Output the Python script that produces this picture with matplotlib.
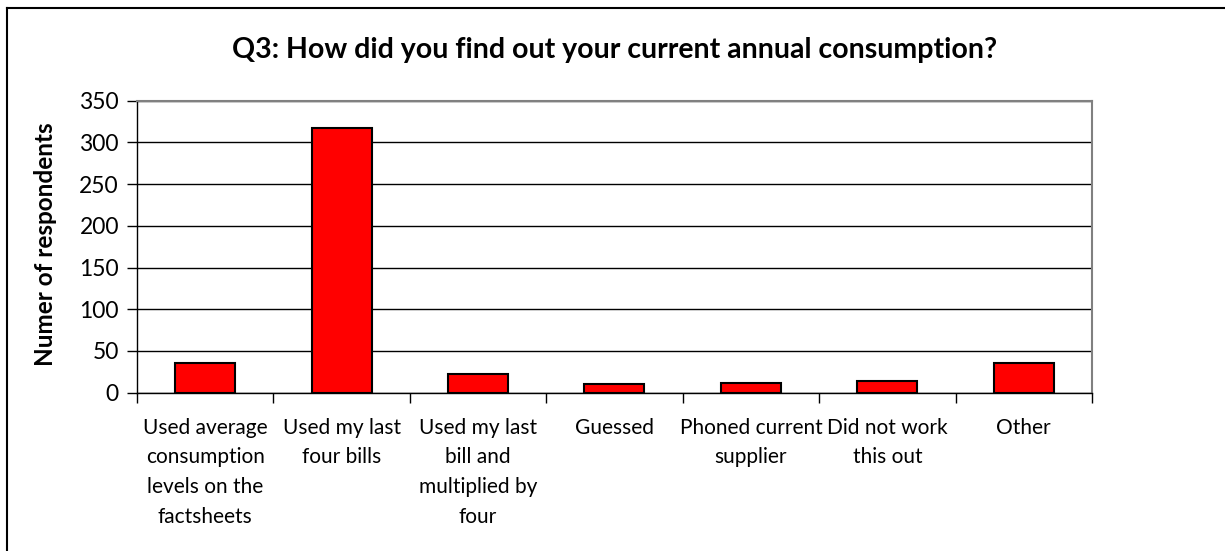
import numpy as np
import matplotlib.pyplot as plt
from matplotlib.lines import Line2D

# survey answers
categories = ["Used average\nconsumption\nlevels on the\nfactsheets",
              "Used my last\nfour bills",
              "Used my last\nbill and\nmultiplied by\nfour",
              "Guessed",
              "Phoned current\nsupplier",
              "Did not work\nthis out",
              "Other"]
counts = [36, 317, 22, 10, 12, 14, 36]
yticks = [0, 50, 100, 150, 200, 250, 300, 350]

plt.rcParams['font.family'] = ['Lato', 'DejaVu Sans']

fig = plt.figure(figsize=(12.25, 5.51), dpi=100)
ax = fig.add_axes([0.1118, 0.2873, 0.7796, 0.5299])

x = np.arange(len(categories))
ax.bar(x, counts, width=0.44, color="#ff0000", edgecolor="black", linewidth=1.5, zorder=3)

ax.set_xlim(-0.5, len(categories) - 0.5)
ax.set_ylim(0, 350)
ax.set_yticks(yticks)
ax.set_yticklabels([str(v) for v in yticks], fontsize=16.5)
ax.yaxis.grid(True, color="black", linewidth=1.0, zorder=0)

# ticks between categories
ax.set_xticks(np.arange(-0.5, len(categories), 1.0))
ax.set_xticklabels([])
ax.tick_params(axis="x", direction="out", length=7, width=1, color="black")
ax.tick_params(axis="y", direction="out", length=7, width=1, color="black", pad=6)
for i, c in enumerate(categories):
    ax.text(i, -30, c, ha="center", va="top", fontsize=15, linespacing=1.6)

for s in ["top", "right"]:
    ax.spines[s].set_color("#808080")
    ax.spines[s].set_linewidth(1.5)
for s in ["left", "bottom"]:
    ax.spines[s].set_color("black")
    ax.spines[s].set_linewidth(1.0)

ax.set_ylabel("Numer of respondents", fontsize=17.5, fontweight="bold")
ax.yaxis.set_label_coords(-0.084, 0.51)
fig.text(0.502, 0.91, "Q3: How did you find out your current annual consumption?",
         ha="center", va="center", fontsize=20.5, fontweight="bold")

# chart area border (only top and left fall inside the picture)
fig.add_artist(Line2D([7/1225, 1.0], [1 - 8/551, 1 - 8/551], color="black", linewidth=1.5))
fig.add_artist(Line2D([7/1225, 7/1225], [0, 1 - 8/551], color="black", linewidth=1.5))

plt.savefig("out.png", dpi=100)
